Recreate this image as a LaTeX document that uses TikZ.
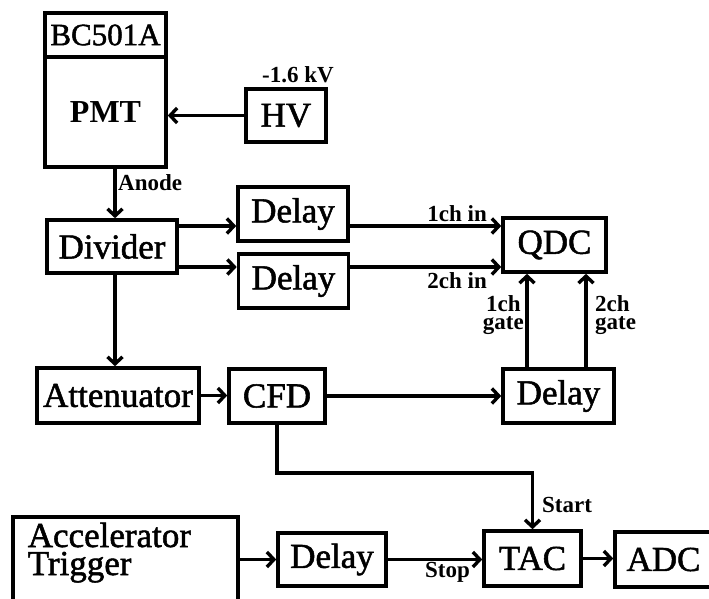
\documentclass[tikz,border=0pt]{standalone}
\usepackage{fontspec}
\setmainfont{Liberation Serif}
\newfontfamily\heavyserif[FakeBold=1.5]{Liberation Serif}
\usetikzlibrary{arrows.meta,calc}
\begin{document}
\begin{tikzpicture}[x=1pt,y=-1pt,
  box/.style={draw, line width=3.6pt, inner sep=0pt, font=\heavyserif\fontsize{35}{36}\selectfont},
  wire/.style={line width=3.4pt},
  arr/.style={wire, -{Straight Barb[length=7pt,width=15pt]}},
  lab/.style={font=\bfseries\fontsize{23}{18}\selectfont, inner sep=0pt}]
\useasboundingbox (0,0) rectangle (709,599);
\clip (0,0) rectangle (709,599);
% boxes
\node[box, minimum width=121pt, minimum height=44pt, font=\heavyserif\fontsize{31}{33}\selectfont] (bc) at (105.5,35) {BC501A};
\node[box, minimum width=121pt, minimum height=110pt, font=\bfseries\fontsize{32}{33}\selectfont] (pmt) at (105.5,112) {PMT};
\node[box, minimum width=80pt, minimum height=53pt] (hv) at (286,115.5) {HV};
\node[box, minimum width=130pt, minimum height=53pt] (div) at (112,246.5) {Divider};
\node[box, minimum width=110pt, minimum height=54pt] (d1) at (293,214) {Delay};
\node[box, minimum width=110pt, minimum height=54pt] (d2) at (293.5,281) {Delay};
\node[box, minimum width=103pt, minimum height=54pt] (qdc) at (554.5,245) {QDC};
\node[box, minimum width=162pt, minimum height=55pt] (att) at (118,395.5) {Attenuator};
\node[box, minimum width=96pt, minimum height=54pt] (cfd) at (277,396) {CFD};
\node[box, minimum width=111pt, minimum height=54pt] (d3) at (558.5,396) {Delay};
\node[box, minimum width=225pt, minimum height=93pt] (acc) at (125.5,563.5) {};
\node[box, draw=none, anchor=base west, align=left, font=\heavyserif\fontsize{35}{28}\selectfont] (acctext) at (26,575) {Accelerator\\Trigger};
\node[box, minimum width=108pt, minimum height=53pt] (d4) at (332,559.5) {Delay};
\node[box, minimum width=97pt, minimum height=55pt] (tac) at (532.5,558.5) {TAC};
\node[box, minimum width=97pt, minimum height=55pt] (adc) at (663.5,559.5) {ADC};
% helper coordinates
\coordinate (ax) at (115,0);
\coordinate (ya) at (0,226);
\coordinate (yb) at (0,267);
\coordinate (g1) at (527,0);
\coordinate (g2) at (586,0);
\coordinate (yc) at (0,473);
% connectors
\draw[arr] (hv.west) -- (hv.west -| pmt.east);
\draw[arr] (ax |- pmt.south) -- (ax |- div.north);
\draw[arr] (ax |- div.south) -- (ax |- att.north);
\draw[arr] (div.east |- ya) -- (d1.west |- ya);
\draw[arr] (div.east |- yb) -- (d2.west |- yb);
\draw[arr] (d1.east |- ya) -- (qdc.west |- ya);
\draw[arr] (d2.east |- yb) -- (qdc.west |- yb);
\draw[arr] (g1 |- d3.north) -- (g1 |- qdc.south);
\draw[arr] (g2 |- d3.north) -- (g2 |- qdc.south);
\draw[arr] (att.east) -- (att.east -| cfd.west);
\draw[arr] (cfd.east) -- (cfd.east -| d3.west);
\draw[arr] (cfd.south) -- (cfd.south |- yc) -| (tac.north);
\draw[arr] (d4.west -| acc.east) -- (d4.west);
\draw[arr] (d4.east) -- (d4.east -| tac.west);
\draw[arr] (tac.east) -- (tac.east -| adc.west);
% labels
\node[lab] (kv) at (298,75) {-1.6 kV};
\node[lab, anchor=west] (an) at (118,183) {Anode};
\node[lab, anchor=east] (l1) at (487,214) {1ch in};
\node[lab, anchor=east] (l2) at (487,281) {2ch in};
\node[lab, anchor=east, align=center] (gl1) at (524,315) {1ch\\gate};
\node[lab, anchor=west, align=left] (gl2) at (595,315) {2ch\\gate};
\node[lab, anchor=west] (st) at (542,505) {Start};
\node[lab, anchor=east] (sp) at (470,572) {Stop};
\end{tikzpicture}
\end{document}
